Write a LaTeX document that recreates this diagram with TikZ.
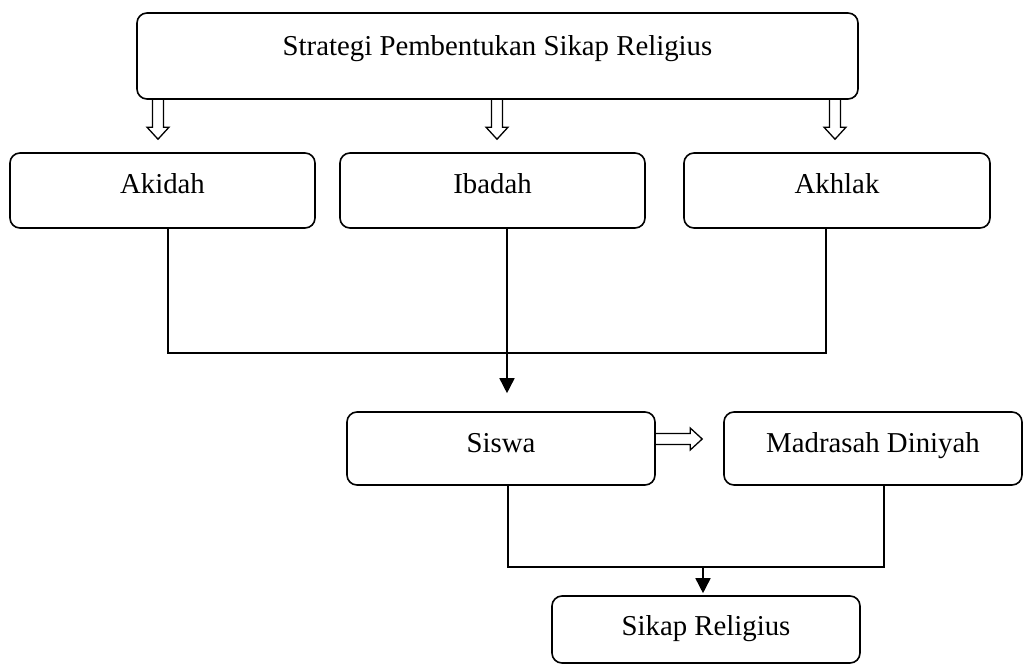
\documentclass[tikz,border=0pt]{standalone}
\usepackage{fontspec}
\setmainfont{Liberation Serif}
\usetikzlibrary{arrows.meta,calc}
\tikzset{
  box/.style={draw, line width=1.6pt, rounded corners=10pt, inner sep=0pt, align=center,
    font=\fontsize{28.8}{34}\selectfont},
  conn/.style={line width=1.6pt},
  arr/.style={line width=1.6pt, -{Triangle[length=15pt,width=15pt]}},
  hol/.style={line width=1.3pt, line join=miter}
}
\newcommand\hollowdown[2]{\draw[hol] let \p1=#1, \p2=#2 in
  (\x1-5.5pt,\y1) -- (\x1-5.5pt,\y2+12pt) -- (\x1-11pt,\y2+12pt) -- (\x1,\y2)
  -- (\x1+11pt,\y2+12pt) -- (\x1+5.5pt,\y2+12pt) -- (\x1+5.5pt,\y1);}
\newcommand\hollowright[2]{\draw[hol] let \p1=#1, \p2=#2 in
  (\x1,\y1+5.5pt) -- (\x2-12pt,\y1+5.5pt) -- (\x2-12pt,\y1+11pt) -- (\x2,\y1)
  -- (\x2-12pt,\y1-11pt) -- (\x2-12pt,\y1-5.5pt) -- (\x1,\y1-5.5pt);}
\begin{document}
\begin{tikzpicture}[x=1pt,y=-1pt]
\useasboundingbox (0,0) rectangle (1023,664);
\node[box, minimum width=721pt, text height=42pt, text depth=44pt] (top) at (497.5,56) {Strategi Pembentukan Sikap Religius};
\node[box, minimum width=305pt, text height=40pt, text depth=35pt] (akidah) at (162.5,190.5) {Akidah};
\node[box, minimum width=305pt, text height=40pt, text depth=35pt] (ibadah) at (492.5,190.5) {Ibadah};
\node[box, minimum width=306pt, text height=40pt, text depth=35pt] (akhlak) at (837,190.5) {Akhlak};
\node[box, minimum width=308pt, text height=40pt, text depth=33pt] (siswa) at (501,448.5) {Siswa};
\node[box, minimum width=298pt, text height=40pt, text depth=33pt] (madrasah) at (873,448.5) {Madrasah Diniyah};
\node[box, minimum width=308pt, text height=39pt, text depth=28pt] (sikap) at (706,629.5) {Sikap Religius};

\hollowdown{($(top.south -| akidah.north)+(-4.5,0)$)}{($(akidah.north)+(0,-13)$)}
\hollowdown{($(top.south -| ibadah.north)+(4.5,0)$)}{($(ibadah.north)+(0,-13)$)}
\hollowdown{($(top.south -| akhlak.north)+(-2,0)$)}{($(akhlak.north)+(0,-13)$)}

\coordinate (jl) at (168,353);
\coordinate (jr) at (826,353);
\draw[conn] (akidah.south -| jl) -- (jl) -- (jr) -- (akhlak.south -| jr);
\coordinate (ib) at (507,353);
\draw[arr] (ibadah.south -| ib) -- ($(siswa.north -| ib)+(0,-18)$);

\hollowright{($(siswa.east)+(0,-9.5)$)}{($(madrasah.west)+(-21,-9.5)$)}

\coordinate (kl) at (508,567);
\coordinate (kr) at (884,567);
\draw[conn] (siswa.south -| kl) -- (kl) -- (kr) -- (madrasah.south -| kr);
\draw[arr, shorten >=2pt] ($(sikap.north |- kl)+(-3,0)$) -- ($(sikap.north)+(-3,0)$);
\end{tikzpicture}
\end{document}
